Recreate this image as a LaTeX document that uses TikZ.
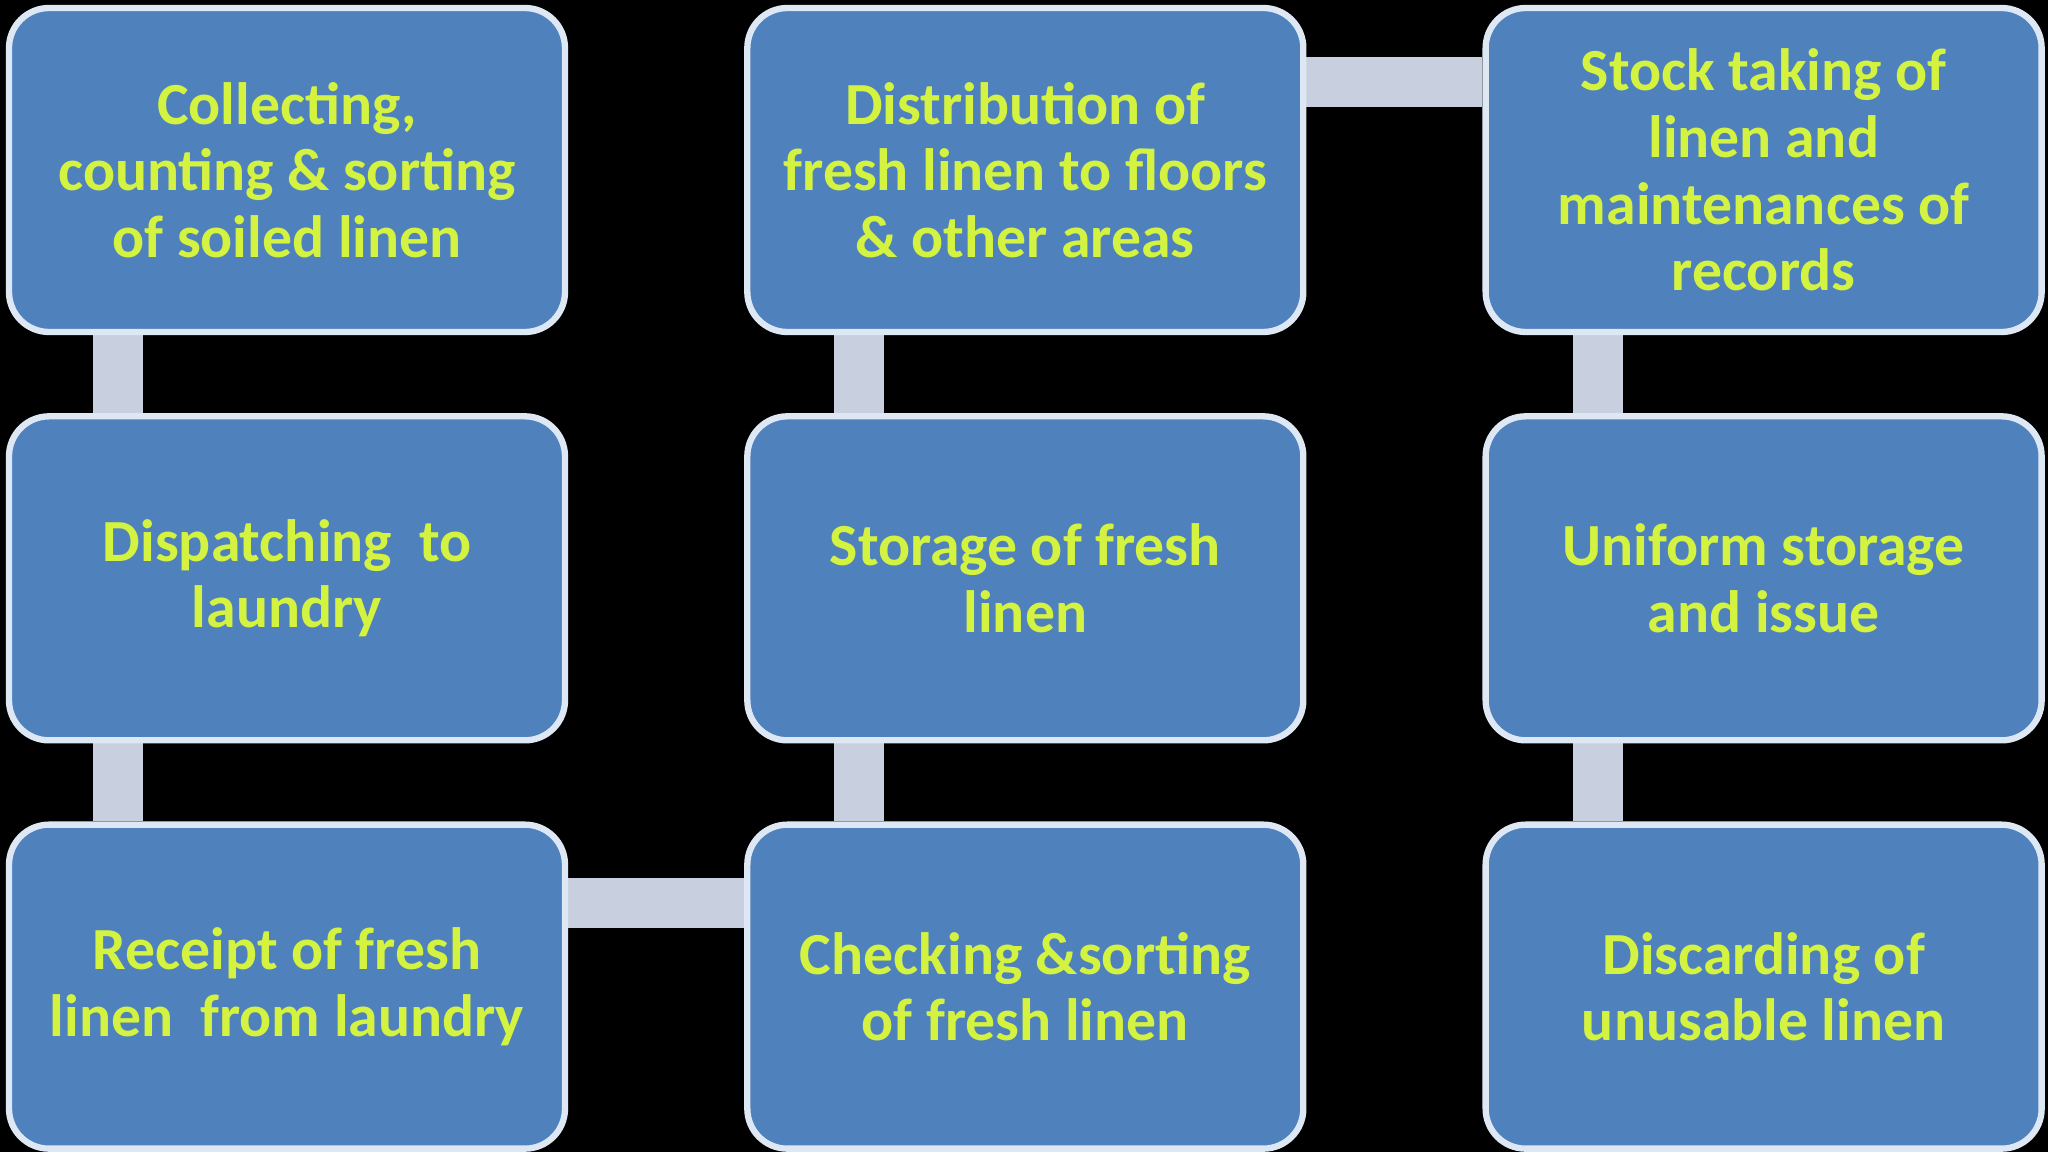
\documentclass[tikz,border=0pt]{standalone}
\usepackage{fontspec}
\setmainfont{Carlito}
\usepackage{tikz}
\usetikzlibrary{positioning, backgrounds, calc}
\usepackage{xcolor}
\definecolor{boxBlue}{RGB}{79,129,189}
\definecolor{edgeWhite}{RGB}{222,232,244}
\definecolor{linkGrey}{RGB}{200,208,224}
\definecolor{textLime}{RGB}{212,242,64}

\begin{document}
\begin{tikzpicture}[
  node distance=0.78cm and 1.76cm,
  task/.style={rectangle, rounded corners=0.4cm, draw=edgeWhite,
               line width=1.8pt, fill=boxBlue,
               minimum width=5.56cm, minimum height=3.24cm,
               align=center, text=textLime,
               font=\fontsize{17}{19}\selectfont\bfseries},
  link/.style={line width=0.5cm, linkGrey}
]
  \useasboundingbox (0,0) rectangle (20.48,-11.52);

  \node[task] at (2.87,-1.70)
    (A1) {Collecting,\\counting \& sorting\\of soiled linen};
  \node[task, below=of A1]
    (A2) {Dispatching~ to\\laundry};
  \node[task, below=of A2]
    (A3) {Receipt of fresh\\linen~ from laundry};
  \node[task, right=of A1]
    (B1) {Distribution of\\fresh linen to floors\\\& other areas};
  \node[task, below=of B1]
    (B2) {Storage of fresh\\linen};
  \node[task, below=of B2]
    (B3) {Checking \&sorting\\of fresh linen};
  \node[task, right=of B1]
    (C1) {Stock taking of\\linen and\\maintenances of\\records};
  \node[task, below=of C1]
    (C2) {Uniform storage\\and issue};
  \node[task, below=of C2]
    (C3) {Discarding of\\unusable linen};

  \begin{scope}[on background layer]
    \fill[black] (0,0) rectangle (20.48,-11.52);
    \draw[link] ([xshift=1.12cm]A1.south west) -- ([xshift=1.12cm]A2.north west);
    \draw[link] ([xshift=1.12cm]A2.south west) -- ([xshift=1.12cm]A3.north west);
    \draw[link] ([xshift=1.15cm]B1.south west) -- ([xshift=1.15cm]B2.north west);
    \draw[link] ([xshift=1.15cm]B2.south west) -- ([xshift=1.15cm]B3.north west);
    \draw[link] ([xshift=1.16cm]C1.south west) -- ([xshift=1.16cm]C2.north west);
    \draw[link] ([xshift=1.16cm]C2.south west) -- ([xshift=1.16cm]C3.north west);
    \draw[link] ([yshift=-0.77cm]B1.north east) -- ([yshift=-0.77cm]C1.north west);
    \draw[link] ([yshift=-0.82cm]A3.north east) -- ([yshift=-0.82cm]B3.north west);
  \end{scope}
\end{tikzpicture}
\end{document}
